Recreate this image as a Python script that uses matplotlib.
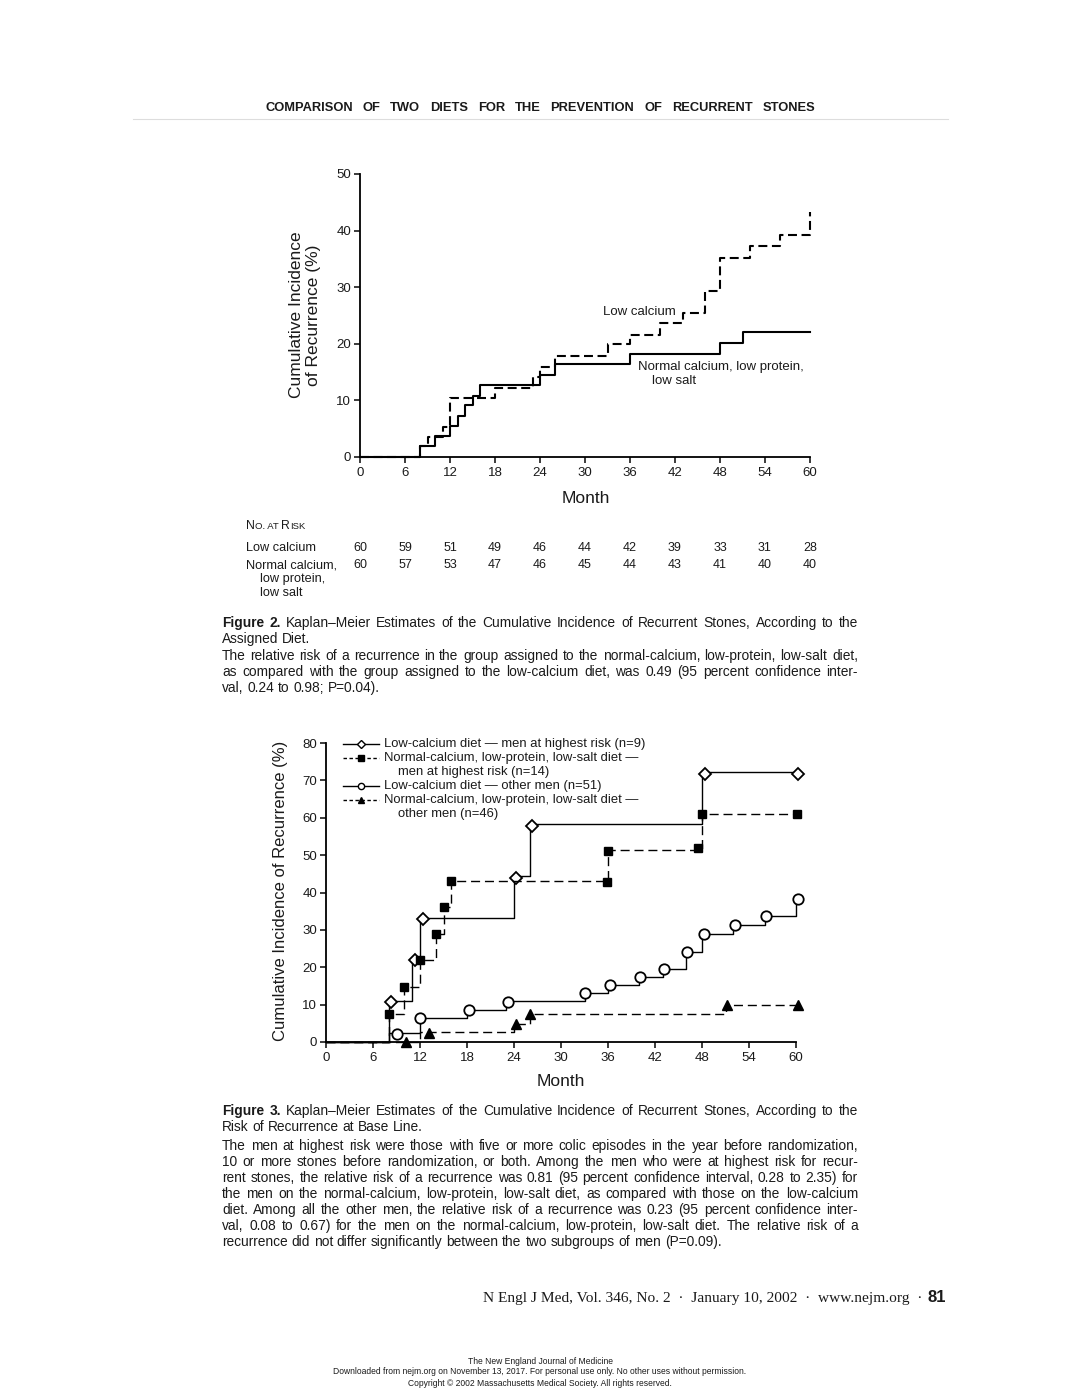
import matplotlib
matplotlib.use("Agg")
import matplotlib.pyplot as plt
import matplotlib.transforms as mtrans

W, H = 1080, 1397
plt.rcParams['font.family'] = ['Liberation Sans', 'DejaVu Sans']

# ---- Figure 2 data (months, cumulative incidence %) ----
lowcal_months = [0, 8, 9, 11, 12, 18, 23, 24, 26, 33, 36, 40, 43, 46, 48, 52, 56, 60]
lowcal_pct = [0, 1.9, 3.5, 5.3, 10.5, 12.2, 14.2, 15.9, 17.8, 19.9, 21.6, 23.6, 25.5, 29.4, 35.2, 37.3, 39.3, 43.3]
normcal_months = [0, 8, 10, 12, 13, 14, 15, 16, 24, 26, 36, 48, 51, 60]
normcal_pct = [0, 1.9, 3.7, 5.4, 7.3, 9.1, 10.8, 12.7, 14.4, 16.4, 18.2, 20.1, 22.1, 22.1]

risk_months = [0, 6, 12, 18, 24, 30, 36, 42, 48, 54, 60]
risk_lowcal = [60, 59, 51, 49, 46, 44, 42, 39, 33, 31, 28]
risk_normcal = [60, 57, 53, 47, 46, 45, 44, 43, 41, 40, 40]

# ---- Figure 3 data ----
lc_high_months = [0, 8, 11, 12, 24, 26, 48, 60]
lc_high_pct = [0, 11.1, 22.2, 33.3, 44.4, 58.3, 72.2, 72.2]
lc_high_mk_months = [8.3, 11.3, 12.4, 24.3, 26.3, 48.4, 60.3]
lc_high_mk_pct = [10.7, 22.0, 33.0, 44.0, 57.8, 71.7, 71.7]

nc_high_months = [0, 8, 10, 12, 14, 15, 16, 36, 48, 60]
nc_high_pct = [0, 7.6, 14.7, 21.9, 28.9, 36.0, 43.2, 51.5, 60.9, 60.9]
nc_high_mk_months = [8, 10, 12, 14, 15, 16, 35.9, 36, 47.5, 48, 60.1]
nc_high_mk_pct = [7.6, 14.7, 21.9, 28.9, 36.0, 43.2, 42.9, 51.2, 51.8, 60.9, 60.9]

lc_other_months = [0, 8, 12, 18, 23, 33, 36, 40, 43, 46, 48, 52, 56, 60]
lc_other_pct = [0, 2.4, 6.5, 8.6, 11.0, 13.1, 15.2, 17.4, 19.6, 24.1, 28.9, 31.3, 33.8, 38.3]
lc_other_mk_months = [9.1, 12.0, 18.2, 23.2, 33.1, 36.2, 40.1, 43.1, 46.1, 48.2, 52.2, 56.2, 60.2]
lc_other_mk_pct = [2.2, 6.5, 8.6, 10.8, 13.1, 15.2, 17.4, 19.6, 24.1, 28.9, 31.3, 33.8, 38.3]

nc_other_months = [0, 12, 24, 26, 51, 60]
nc_other_pct = [0, 2.7, 4.9, 7.6, 10.0, 10.0]
nc_other_mk_months = [10.2, 13.1, 24.2, 26.1, 51.2, 60.2]
nc_other_mk_pct = [0, 2.4, 4.9, 7.4, 9.8, 9.8]

TXT = '#1a1a1a'
CAP = 9.9

fig = plt.figure(figsize=(W / 100, H / 100), dpi=100)
fig.patch.set_facecolor('white')
renderer = fig.canvas.get_renderer()


def fx(x):
    return x / W


def fy(y):
    return 1 - y / H


def width_of(t):
    return t.get_window_extent(renderer).width


def words_line(words, x0, y, x1=None, size=CAP):
    # words: list of (text, weight); spread evenly between x0 and x1 if x1 given
    arts = [fig.text(fx(x0), fy(y), w, fontsize=size, fontweight=wt, color=TXT,
                     va='baseline') for w, wt in words]
    widths = [width_of(t) for t in arts]
    gap = size * 100 / 72 * 0.278
    if x1 is not None and len(arts) > 1:
        gap = (x1 - x0 - sum(widths)) / (len(arts) - 1)
    x = x0
    for t, w in zip(arts, widths):
        t.set_x(fx(x))
        x += w + gap


def para_line(s, y, nbold=0, justify=True, size=CAP):
    parts = s.split(' ')
    words = [(p, 'bold' if i < nbold else 'normal') for i, p in enumerate(parts)]
    words_line(words, 222, y, 858 if justify else None, size=size)


def run(pieces, x, y):
    # consecutive pieces of text with different sizes (small caps)
    for s, size in pieces:
        t = fig.text(fx(x), fy(y), s, fontsize=size, color=TXT, va='baseline')
        x += width_of(t)


def style_axes(ax):
    for s in ['top', 'right']:
        ax.spines[s].set_visible(False)
    for s in ['left', 'bottom']:
        ax.spines[s].set_linewidth(1.3)
    ax.tick_params(direction='out', length=4.5, width=1.2, labelsize=9.5,
                   colors=TXT, pad=2)
    ax.tick_params(axis='x', pad=3)
    ax.set_facecolor('none')


# ---- header ----
header = "COMPARISON OF TWO DIETS FOR THE PREVENTION OF RECURRENT STONES"
words_line([(w, 'bold') for w in header.split()], 265, 111, 815, size=9.3)
fig.add_artist(plt.Line2D([fx(133), fx(948)], [fy(119), fy(119)], color='#dddddd', lw=0.8))

# ---- Figure 2 ----
ax1 = fig.add_axes([fx(360), fy(457), 450 / W, 283 / H])
ax1.step(lowcal_months, lowcal_pct, where='post', color='black', lw=1.5,
         dashes=(4.3, 2.2), clip_on=False)
ax1.step(normcal_months, normcal_pct, where='post', color='black', lw=1.5, clip_on=False)
ax1.set_xlim(0, 60)
ax1.set_ylim(0, 50)
ax1.set_xticks(risk_months)
ax1.set_yticks(range(0, 51, 10))
style_axes(ax1)
ax1.text(32.4, 25.6, "Low calcium", fontsize=9.5, color=TXT, va='center')
ax1.text(37.1, 15.9, "Normal calcium, low protein,", fontsize=9.5, color=TXT, va='center')
ax1.text(39.0, 13.4, "low salt", fontsize=9.5, color=TXT, va='center')

fig.text(fx(305), fy(315), "Cumulative Incidence\nof Recurrence (%)", rotation=90,
         ha='center', va='center', multialignment='center', fontsize=12.5,
         color=TXT, linespacing=1.1)
fig.text(fx(586), fy(498), "Month", ha='center', va='center', fontsize=12.5, color=TXT)

# number at risk table
run([("N", 8.8), ("O. AT ", 6.8), ("R", 8.8), ("ISK", 6.8)], 246, 529)

tr = mtrans.blended_transform_factory(ax1.transData, fig.transFigure)
fig.text(fx(246), fy(551), "Low calcium", fontsize=9.2, color=TXT, va='baseline')
fig.text(fx(246), fy(568), "Normal calcium,", fontsize=9.2, color=TXT, va='baseline')
fig.text(fx(260), fy(582), "low protein,", fontsize=9.2, color=TXT, va='baseline')
fig.text(fx(260), fy(596), "low salt", fontsize=9.2, color=TXT, va='baseline')
for m, a, b in zip(risk_months, risk_lowcal, risk_normcal):
    fig.text(m, fy(551), str(a), transform=tr, ha='center', fontsize=9, color=TXT, va='baseline')
    fig.text(m, fy(568), str(b), transform=tr, ha='center', fontsize=9, color=TXT, va='baseline')

# caption 2
para_line("Figure 2. Kaplan\u2013Meier Estimates of the Cumulative Incidence of Recurrent Stones, According to the", 627, nbold=2)
para_line("Assigned Diet.", 643, justify=False)
para_line("The relative risk of a recurrence in the group assigned to the normal-calcium, low-protein, low-salt diet,", 660)
para_line("as compared with the group assigned to the low-calcium diet, was 0.49 (95 percent confidence inter-", 676)
para_line("val, 0.24 to 0.98; P=0.04).", 692, justify=False)

# ---- Figure 3 ----
ax2 = fig.add_axes([fx(326), fy(1042), 470 / W, 299 / H])
dash3 = (6.5, 3.5)
ax2.step(lc_high_months, lc_high_pct, where='post', color='black', lw=1.0, clip_on=False)
ax2.plot(lc_high_mk_months, lc_high_mk_pct, 'D', ms=6.5, mfc='white', mec='black', mew=1.3, clip_on=False)
ax2.step(nc_high_months, nc_high_pct, where='post', color='black', lw=1.0, dashes=dash3, clip_on=False)
ax2.plot(nc_high_mk_months, nc_high_mk_pct, 's', ms=6, mfc='black', mec='black', clip_on=False)
ax2.step(lc_other_months, lc_other_pct, where='post', color='black', lw=1.0, clip_on=False)
ax2.plot(lc_other_mk_months, lc_other_mk_pct, 'o', ms=7.5, mfc='white', mec='black', mew=1.3, clip_on=False)
ax2.step(nc_other_months, nc_other_pct, where='post', color='black', lw=1.0, dashes=dash3, clip_on=False)
ax2.plot(nc_other_mk_months, nc_other_mk_pct, '^', ms=7, mfc='black', mec='black', clip_on=False)
ax2.set_xlim(0, 60)
ax2.set_ylim(0, 80)
ax2.set_xticks(range(0, 61, 6))
ax2.set_yticks(range(0, 81, 10))
style_axes(ax2)

# legend drawn by hand so that handles sit on the first line of each entry
leg_rows = [0.9967, 0.9498, 0.9030, 0.8562, 0.8094, 0.7625]
leg_items = [
    (leg_rows[0], None, 'D', 'white', "Low-calcium diet \u2014 men at highest risk (n=9)"),
    (leg_rows[1], (2.5, 1.8), 's', 'black', "Normal-calcium, low-protein, low-salt diet \u2014"),
    (leg_rows[3], None, 'o', 'white', "Low-calcium diet \u2014 other men (n=51)"),
    (leg_rows[4], (2.5, 1.8), '^', 'black', "Normal-calcium, low-protein, low-salt diet \u2014"),
]
for yy, dsh, mk, fc, lab in leg_items:
    kw = dict(color='black', lw=1.0, transform=ax2.transAxes, clip_on=False)
    if dsh:
        kw['dashes'] = dsh
    ax2.plot([0.036, 0.113], [yy, yy], **kw)
    ax2.plot([0.0745], [yy], mk, ms=4.5, mfc=fc, mec='black', mew=1.0,
             transform=ax2.transAxes, clip_on=False)
    ax2.text(0.1234, yy, lab, transform=ax2.transAxes, fontsize=9.4, color=TXT, va='center')
ax2.text(0.153, leg_rows[2], "men at highest risk (n=14)", transform=ax2.transAxes,
         fontsize=9.4, color=TXT, va='center')
ax2.text(0.153, leg_rows[5], "other men (n=46)", transform=ax2.transAxes,
         fontsize=9.4, color=TXT, va='center')

fig.text(fx(281), fy(891), "Cumulative Incidence of Recurrence (%)", rotation=90,
         ha='center', va='center', fontsize=12, color=TXT)
fig.text(fx(561), fy(1082), "Month", ha='center', va='center', fontsize=12.5, color=TXT)

# caption 3
para_line("Figure 3. Kaplan\u2013Meier Estimates of the Cumulative Incidence of Recurrent Stones, According to the", 1115, nbold=2)
para_line("Risk of Recurrence at Base Line.", 1131, justify=False)
cap3 = [
    "The men at highest risk were those with five or more colic episodes in the year before randomization,",
    "10 or more stones before randomization, or both. Among the men who were at highest risk for recur-",
    "rent stones, the relative risk of a recurrence was 0.81 (95 percent confidence interval, 0.28 to 2.35) for",
    "the men on the normal-calcium, low-protein, low-salt diet, as compared with those on the low-calcium",
    "diet. Among all the other men, the relative risk of a recurrence was 0.23 (95 percent confidence inter-",
    "val, 0.08 to 0.67) for the men on the normal-calcium, low-protein, low-salt diet. The relative risk of a",
]
for i, line in enumerate(cap3):
    para_line(line, 1150 + 16 * i)
para_line("recurrence did not differ significantly between the two subgroups of men (P=0.09).", 1246, justify=False)

# ---- footer ----
fig.text(fx(946), fy(1302), "81", fontsize=12, fontweight='bold', color=TXT, ha='right', va='baseline')
fig.text(fx(922), fy(1302), "N Engl J Med, Vol. 346, No. 2  \u00b7  January 10, 2002  \u00b7  www.nejm.org  \u00b7",
         fontsize=11.1, family='Liberation Serif', color=TXT, ha='right', va='baseline')
foot = ["The New England Journal of Medicine",
        "Downloaded from nejm.org on November 13, 2017. For personal use only. No other uses without permission.",
        "Copyright \u00a9 2002 Massachusetts Medical Society. All rights reserved."]
for i, s in enumerate(foot):
    fig.text(0.5, fy(1361 + 11 * i), s, fontsize=6.15, color=TXT, ha='center', va='center')

fig.savefig("out.png", dpi=100, facecolor='white')
